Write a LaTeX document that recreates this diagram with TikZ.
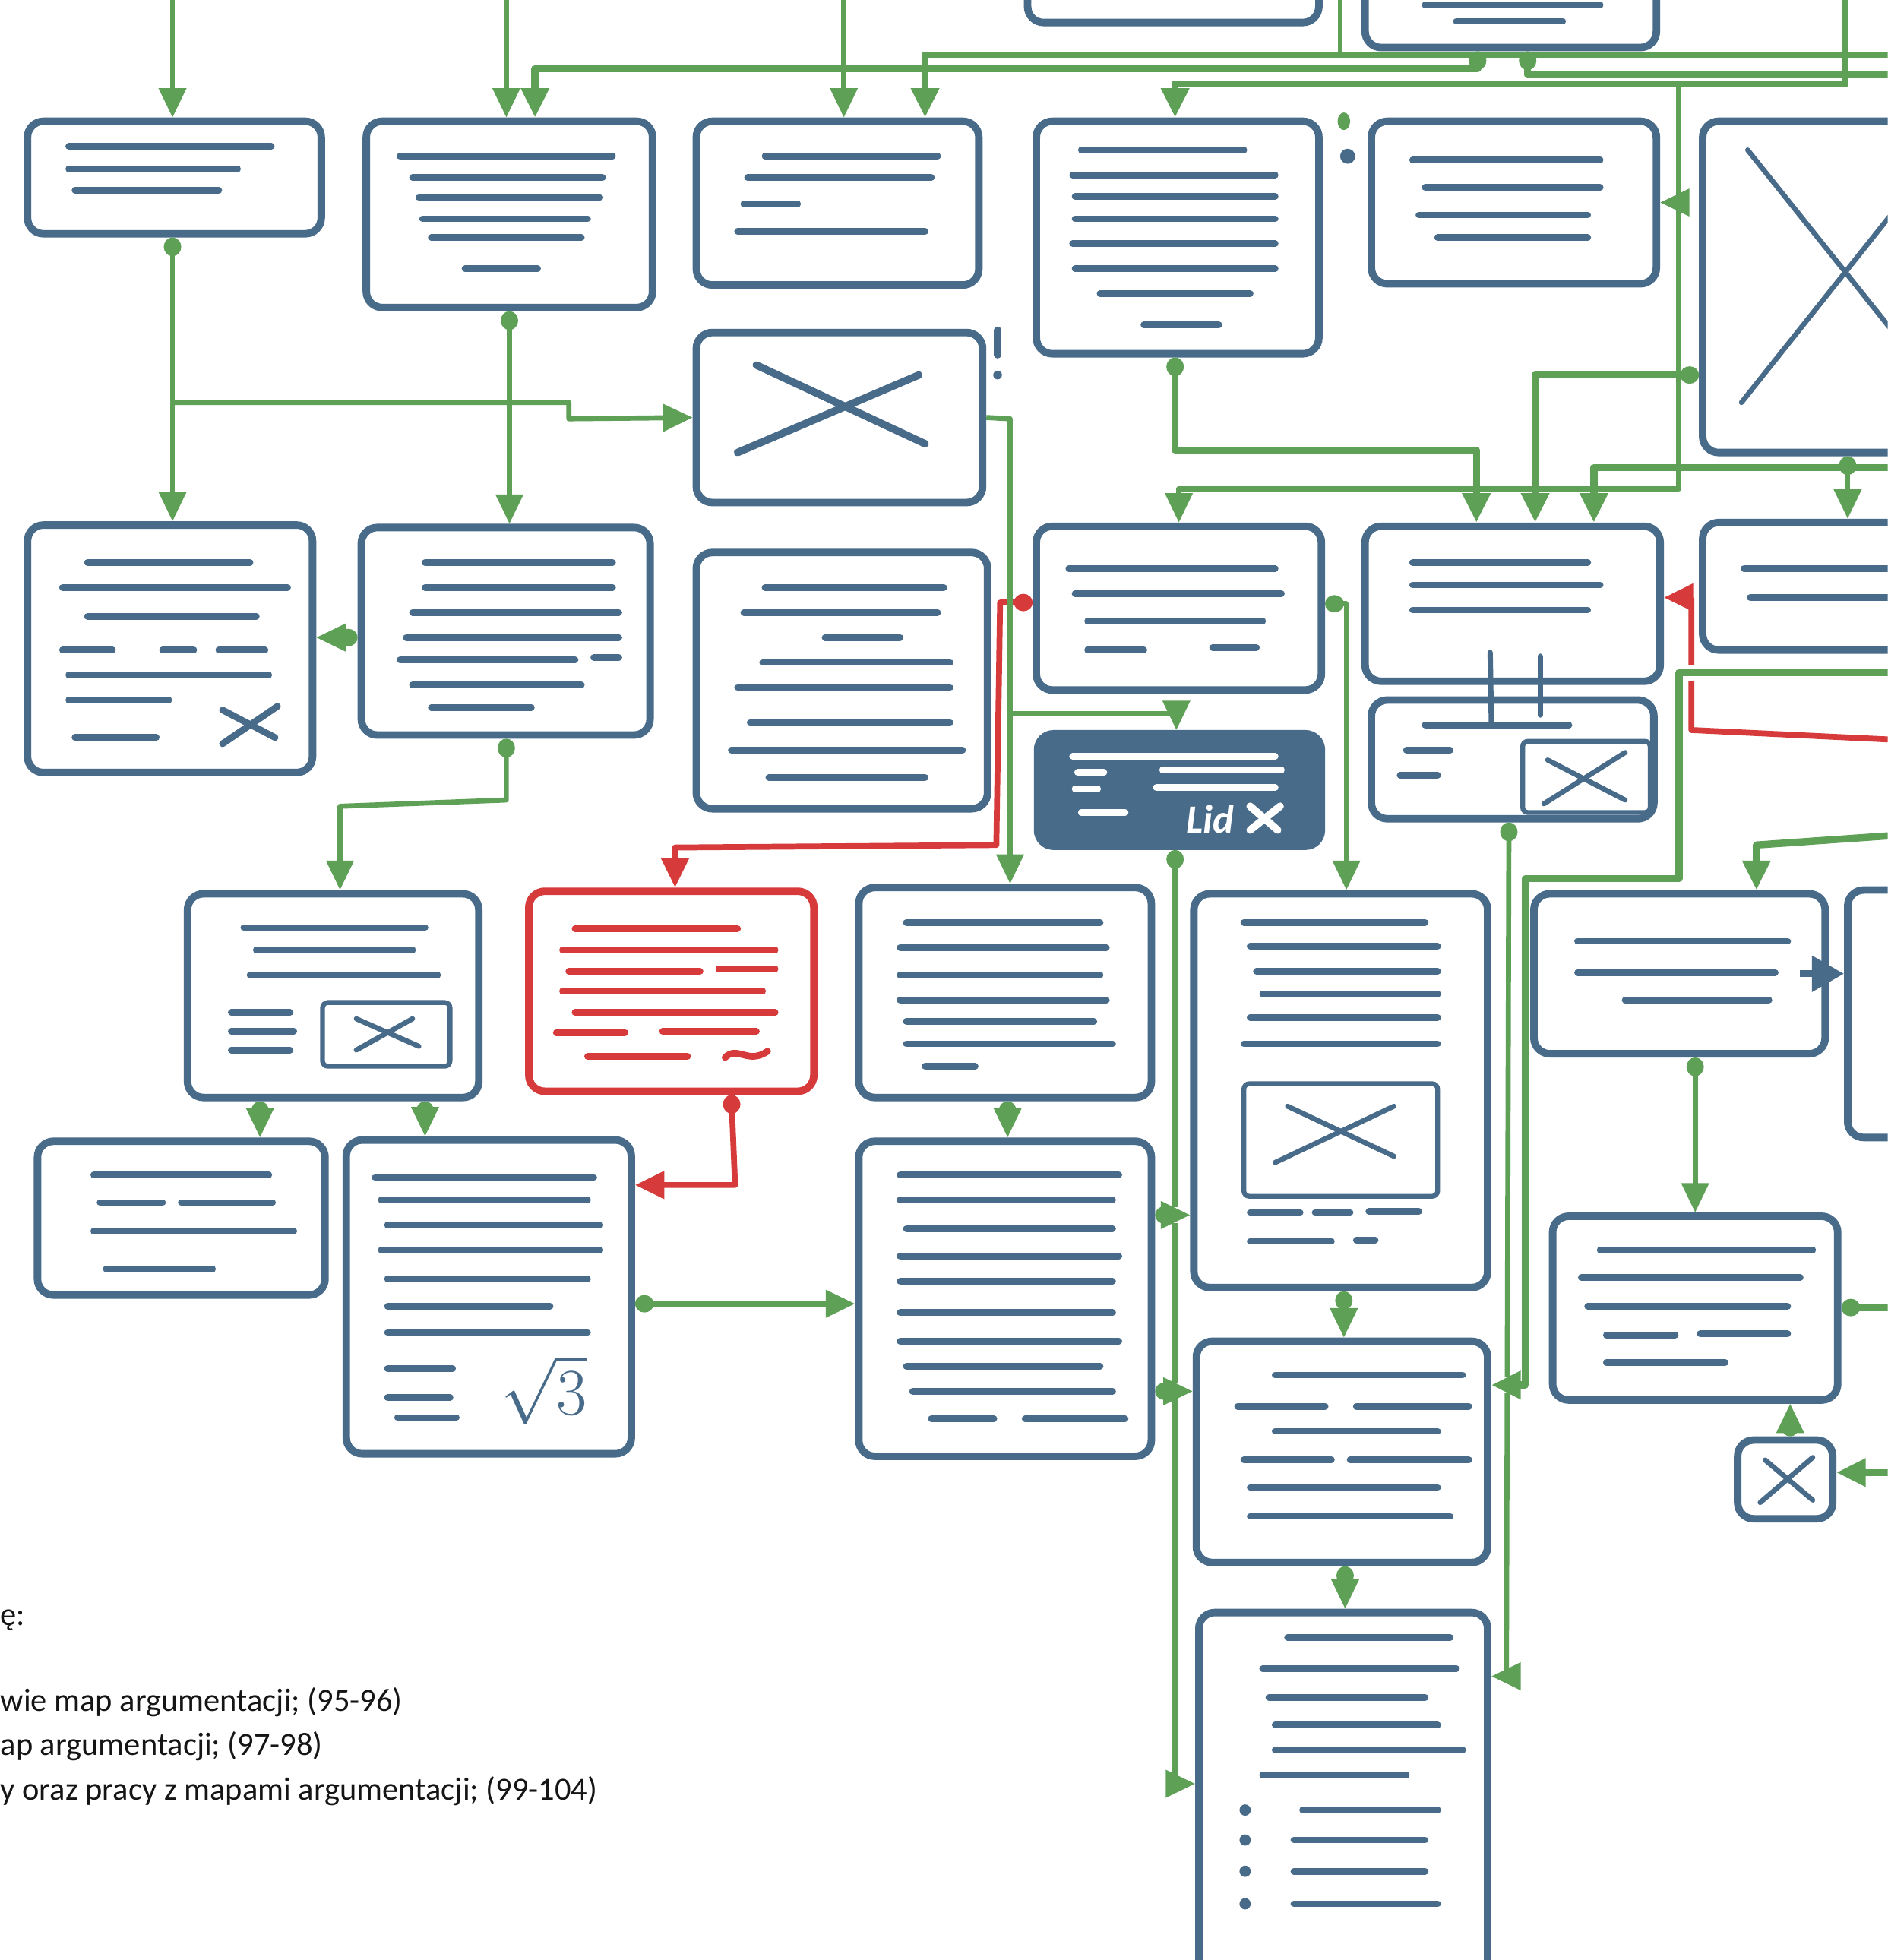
\documentclass[tikz,border=0pt]{standalone}
\usepackage{fontspec}
\setmainfont{Carlito}
\usetikzlibrary{arrows.meta,fit,calc}
\definecolor{bluec}{HTML}{486B8A}
\definecolor{greenc}{HTML}{5FA057}
\definecolor{redc}{HTML}{D63A3A}
\definecolor{inkc}{HTML}{151515}
\tikzset{
  box/.style={draw=bluec, line width=2.8pt, rounded corners=6pt, inner sep=0pt},
  redbox/.style={draw=redc, line width=2.8pt, rounded corners=6pt, inner sep=0pt},
  darkbox/.style={draw=bluec, fill=bluec, line width=2.8pt, rounded corners=6pt, inner sep=0pt},
  imgbox/.style={draw=bluec, line width=1.8pt, rounded corners=2pt},
  tl/.style={draw=bluec, line width=2.5pt, line cap=round},
  wtl/.style={draw=white, line width=2.5pt, line cap=round},
  rtl/.style={draw=redc, line width=2.5pt, line cap=round},
  xmark/.style={draw=bluec, line width=1.9pt, line cap=round},
  gline/.style={draw=greenc, line width=1.9pt, line join=round},
  gthick/.style={gline, line width=2.7pt},
  rline/.style={draw=redc, line width=2.2pt, line join=round},
  gap/.style={draw=white, line width=6pt},
  arr/.style={-{Triangle[length=11pt,width=10pt]}},
  darr/.style={{Circle[length=7pt,width=6.5pt]}-{Triangle[length=11pt,width=10pt]}},
  dl/.style={{Circle[length=7pt,width=6.5pt]}-},
  legend/.style={font=\fontsize{12.1}{14}\selectfont, text=inkc, inner sep=0pt},
}
\newcommand\mkbox[6][box]{\node[#1, fit={(#3,#4) (#5,#6)}] (#2) {};}
\newcommand\tln[3]{\draw[tl] (#1,#3) -- (#2,#3);}
\newcommand\wln[3]{\draw[wtl] (#1,#3) -- (#2,#3);}
\newcommand\rln[3]{\draw[rtl] (#1,#3) -- (#2,#3);}
\begin{document}
\begin{tikzpicture}[x=0.016457cm, y=-0.016457cm]
\useasboundingbox (0,0) rectangle (1510,1568);
\clip (0,0) rectangle (1510,1568);
\fill[white] (0,0) rectangle (1510,1568);

% ---------- boxes ----------
\mkbox{T1}{822}{-40}{1055}{18}
\mkbox{T2}{1092}{-40}{1325}{38}
\mkbox{A1}{22}{97}{257}{187}
\mkbox{A2}{293}{97}{522}{246}
\mkbox{A3}{557}{97}{783}{228}
\mkbox{A4}{829}{97}{1055}{283}
\mkbox{A5}{1097}{97}{1325}{227}
\mkbox{A6}{1362}{97}{1560}{362}
\mkbox{B3}{557}{266}{786}{402}
\mkbox{C1}{22}{420}{250}{618}
\mkbox{C2}{289}{422}{520}{588}
\mkbox{C3}{557}{442}{790}{647}
\mkbox{C4}{829}{421}{1057}{552}
\mkbox{C5}{1092}{421}{1328}{545}
\mkbox{C6}{1362}{418}{1560}{520}
\mkbox{CB}{1097}{560}{1323}{655}
\mkbox[darkbox]{D}{830}{587}{1057}{677}
\mkbox{E1}{150}{715}{383}{878}
\mkbox[redbox]{E2}{423}{713}{651}{873}
\mkbox{E3}{687}{710}{921}{878}
\mkbox{E4}{955}{715}{1190}{1030}
\mkbox{E5}{1227}{715}{1460}{843}
\mkbox{E6}{1478}{712}{1560}{910}
\mkbox{F1}{30}{913}{260}{1036}
\mkbox{F2}{277}{912}{505}{1163}
\mkbox{F3}{687}{913}{921}{1165}
\mkbox{F4}{957}{1073}{1190}{1250}
\mkbox{F5}{1242}{973}{1470}{1120}
\mkbox{F6}{1390}{1152}{1466}{1215}
\mkbox{G}{959}{1290}{1190}{1620}

% ---------- box contents ----------
% T2
\tln{1140}{1280}{4} \tln{1165}{1250}{17}
% A1
\tln{55}{217}{117} \tln{55}{190}{135} \tln{60}{175}{152}
% A2
\tln{320}{490}{125} \tln{330}{482}{142} \tln{335}{480}{158}
\tln{338}{470}{175} \tln{345}{465}{190} \tln{372}{430}{215}
% A3
\tln{612}{750}{125} \tln{598}{745}{142} \tln{595}{638}{163} \tln{590}{740}{185}
% A4
\tln{865}{995}{120} \tln{858}{1020}{140} \tln{860}{1020}{157} \tln{860}{1020}{175}
\tln{858}{1020}{195} \tln{860}{1020}{215} \tln{880}{1000}{235} \tln{915}{975}{260}
% A5
\tln{1130}{1280}{128} \tln{1140}{1280}{150} \tln{1135}{1270}{172} \tln{1150}{1270}{190}
% A6 picture placeholder
\draw[xmark] (1398,120) -- (1530,285);
\draw[xmark] (1393,322) -- (1530,150);
% B3 picture placeholder
\draw[xmark, line width=2.8pt] (605,292) -- (740,355);
\draw[xmark, line width=2.8pt] (590,362) -- (735,300);
% C1
\tln{70}{200}{450} \tln{50}{230}{470} \tln{70}{205}{493}
\tln{50}{90}{520} \tln{130}{155}{520} \tln{175}{212}{520}
\tln{55}{215}{540} \tln{55}{135}{560} \tln{60}{125}{590}
\draw[xmark, line width=2.5pt] (178,595) -- (222,565);
\draw[xmark, line width=2.5pt] (178,568) -- (220,590);
% C2
\tln{340}{490}{450} \tln{340}{490}{470} \tln{330}{495}{490} \tln{325}{495}{510}
\tln{320}{460}{528} \tln{475}{495}{526} \tln{330}{465}{548} \tln{345}{425}{566}
% C3
\tln{612}{755}{470} \tln{595}{750}{490} \tln{660}{720}{510} \tln{610}{760}{530}
\tln{590}{760}{550} \tln{600}{760}{578} \tln{585}{770}{600} \tln{615}{740}{622}
% C4
\tln{855}{1020}{455} \tln{860}{1025}{475} \tln{870}{1010}{497}
\tln{870}{915}{520} \tln{970}{1005}{518}
% C5
\tln{1130}{1270}{450} \tln{1130}{1280}{468} \tln{1130}{1270}{488}
% C6
\tln{1395}{1540}{455} \tln{1400}{1540}{478}
% CB with picture
\tln{1140}{1255}{580} \tln{1125}{1160}{600} \tln{1120}{1150}{620}
\draw[imgbox] (1218,593) rectangle (1320,650);
\draw[xmark] (1238,608) -- (1300,640);
\draw[xmark] (1235,643) -- (1300,602);
% D (dark)
\wln{858}{1020}{605} \wln{862}{883}{618} \wln{930}{1025}{616}
\wln{860}{878}{631} \wln{925}{1020}{630} \wln{865}{900}{650}
\node[text=white, font=\bfseries\itshape\fontsize{15}{15}\selectfont, inner sep=0pt] (lid) at (968,655) {Lid};
\draw[wtl, line width=2.8pt] (1000,645) -- (1022,664);
\draw[wtl, line width=2.8pt] (1000,664) -- (1024,645);
% E1 with picture
\tln{195}{340}{742} \tln{205}{330}{760} \tln{200}{350}{780}
\tln{185}{232}{810} \tln{185}{235}{825} \tln{185}{232}{840}
\draw[imgbox] (258,802) rectangle (360,853);
\draw[xmark] (285,815) -- (335,837);
\draw[xmark] (285,840) -- (330,815);
% E2 (red)
\rln{460}{590}{743} \rln{450}{620}{760} \rln{455}{560}{777} \rln{575}{620}{775}
\rln{450}{610}{793} \rln{460}{620}{810} \rln{445}{500}{826} \rln{530}{605}{825}
\rln{470}{550}{845}
\draw[rtl] (580,846) .. controls (590,836) and (598,852) .. (614,841);
% E3
\tln{725}{880}{738} \tln{720}{885}{758} \tln{720}{880}{780} \tln{720}{885}{800}
\tln{725}{875}{817} \tln{725}{890}{835} \tln{740}{780}{853}
% E4 with picture
\tln{995}{1140}{738} \tln{1000}{1150}{757} \tln{1005}{1150}{777}
\tln{1010}{1150}{795} \tln{1000}{1150}{814} \tln{995}{1150}{835}
\draw[imgbox] (995,867) rectangle (1150,957);
\draw[xmark] (1020,930) -- (1115,885);
\draw[xmark] (1030,885) -- (1115,925);
\tln{1000}{1040}{970} \tln{1052}{1080}{970} \tln{1095}{1135}{969}
\tln{1000}{1065}{993} \tln{1085}{1100}{992}
% E5
\tln{1262}{1430}{753} \tln{1262}{1420}{778} \tln{1300}{1415}{800}
% F1
\tln{75}{215}{940} \tln{80}{130}{962} \tln{145}{218}{962}
\tln{75}{235}{985} \tln{85}{170}{1015}
% F2
\tln{300}{475}{942} \tln{305}{470}{960} \tln{310}{480}{980} \tln{305}{480}{1000}
\tln{310}{470}{1023} \tln{310}{440}{1045} \tln{310}{470}{1066}
\tln{310}{362}{1095} \tln{310}{360}{1118} \tln{318}{365}{1134}
\node[text=bluec, inner sep=0pt, font=\fontsize{26}{26}\selectfont] (root) at (435,1112) {$\sqrt{3}$};
% F3
\tln{720}{895}{940} \tln{720}{890}{960} \tln{725}{890}{983} \tln{720}{895}{1005}
\tln{720}{890}{1025} \tln{720}{890}{1050} \tln{720}{895}{1073} \tln{725}{880}{1093}
\tln{730}{890}{1113} \tln{745}{795}{1135} \tln{820}{900}{1135}
% F4
\tln{1020}{1170}{1100} \tln{990}{1060}{1125} \tln{1085}{1175}{1125}
\tln{1020}{1150}{1145} \tln{995}{1065}{1168} \tln{1080}{1175}{1168}
\tln{1000}{1150}{1190} \tln{1000}{1160}{1213}
% F5
\tln{1280}{1450}{1000} \tln{1265}{1440}{1022} \tln{1270}{1430}{1045}
\tln{1285}{1340}{1068} \tln{1360}{1430}{1067} \tln{1285}{1380}{1090}
% F6 picture placeholder
\draw[xmark] (1408,1202) -- (1450,1166);
\draw[xmark] (1412,1168) -- (1450,1200);
% G
\tln{1030}{1160}{1310} \tln{1010}{1165}{1335} \tln{1015}{1140}{1358}
\tln{1020}{1150}{1380} \tln{1020}{1170}{1400} \tln{1010}{1125}{1420}
\tln{1042}{1150}{1448} \tln{1035}{1140}{1472} \tln{1035}{1140}{1497} \tln{1035}{1150}{1523}
\foreach \yy in {1448,1472,1497,1523} \fill[bluec] (996,\yy) circle (4.5);

% ---------- small marks ----------
\draw[draw=bluec, line width=2.6pt, line cap=round] (798,264) -- (798,284);
\fill[bluec] (798,300) circle (3.5);
\fill[greenc] (1075,97) ellipse (5 and 7);
\fill[bluec] (1078,125) circle (6);
\draw[draw=bluec, line width=2pt, line cap=round] (1192,522) -- (1193,578);
\draw[draw=bluec, line width=2pt, line cap=round] (1232,525) -- (1232,572);

% ---------- off-page ends ----------
\coordinate (t1) at (138,-5);
\coordinate (t2) at (405,-5);
\coordinate (t3) at (675,-5);
\coordinate (t4) at (1072,-5);
\coordinate (t5) at (1476,-5);
\coordinate (e1) at (1520,44);
\coordinate (e2) at (1520,60);
\coordinate (e3) at (1520,374);
\coordinate (e4) at (1520,538);
\coordinate (e5) at (1520,668);
\coordinate (e6) at (1520,1046);
\coordinate (e7) at (1520,1178);
\coordinate (e8) at (1520,592);

% ---------- red connectors ----------
\draw[rline, darr] (C4.west |- 0,482) -- (800,482) -- (797,676) -- (540,678) -- (540,0 |- E2.north);
\draw[rline, arr] (e8) -- (1353,584) -- (1353,478) -- (C5.east |- 0,478);
\draw[rline, darr] (585,0 |- E2.south) -- (588,948) -- (F2.east |- 0,948);

% ---------- green connectors ----------
% from above the page
\draw[gline, arr] (t1) -- (138,0 |- A1.north);
\draw[gline, arr] (t2) -- (405,0 |- A2.north);
\draw[gline, arr] (t3) -- (675,0 |- A3.north);
\draw[gthick, arr] (e1) -- (740,44) -- (740,0 |- A3.north);
\draw[gline] (t4) -- (1072,44);
\draw[gthick, darr] (1182,0 |- T2.south) -- (1182,55) -- (428,55) -- (428,0 |- A2.north);
\draw[gthick, dl] (1222,0 |- T2.south) -- (1222,60) -- (e2);
\draw[gthick, arr] (t5) -- (1476,67) -- (940,67) -- (940,0 |- A4.north);
\draw[gline, arr] (1343,67) -- (1343,391) -- (943,391) -- (943,0 |- C4.north);
\draw[gline, arr] (1343,162) -- (A5.east);
\draw[gthick, darr] (A6.west |- 0,300) -- (1228,300) -- (1228,0 |- C5.north);
\draw[gthick, darr] (940,0 |- A4.south) -- (940,360) -- (1181,360) -- (1181,0 |- C5.north);
\draw[gthick, arr] (e3) -- (1275,374) -- (1275,0 |- C5.north);
\draw[gline, darr] (1478,0 |- A6.south) -- (1478,0 |- C6.north);
% left column
\draw[gline, darr] (138,0 |- A1.south) -- (138,0 |- C1.north);
\draw[gline, arr] (138,322) -- (455,322) -- (455,335) -- (B3.west);
\draw[gline, darr] (A2.south) -- (A2.south |- C2.north);
\draw[gline, darr] (C2.west |- 0,510) -- (C1.east |- 0,510);
\draw[gline, darr] (405,0 |- C2.south) -- (405,640) -- (272,645) -- (272,0 |- E1.north);
\draw[gline, darr] (208,0 |- E1.south) -- (208,0 |- F1.north);
\draw[gline, darr] (340,0 |- E1.south) -- (340,0 |- F2.north);
\draw[gline, darr] (F2.east |- 0,1043) -- (F3.west |- 0,1043);
% middle column
\draw[gline, arr] (B3.east) -- (808,335) -- (808,571) -- (941,571) -- (941,0 |- D.north);
\draw[gline, arr] (808,571) -- (808,0 |- E3.north);
\draw[gline, darr] (806,0 |- E3.south) -- (806,0 |- F3.north);
\draw[gline, darr] (C4.east |- 0,483) -- (1077,483) -- (1077,0 |- E4.north);
\draw[gline, darr] (940,0 |- D.south) -- (940,1427) -- (G.west |- 0,1427);
% line hops where the links cross the long feed
\draw[gap] (932,972) -- (948,972);
\draw[gap] (932,1113) -- (948,1113);
\draw[gline, darr] (F3.east |- 0,972) -- (E4.west |- 0,972);
\draw[gline, darr] (F3.east |- 0,1113) -- (F4.west |- 0,1113);
\draw[gline, darr] (1075,0 |- E4.south) -- (1075,0 |- F4.north);
\draw[gline, darr] (1076,0 |- F4.south) -- (1076,0 |- G.north);
% right column
\draw[gline, darr] (1207,0 |- CB.south) -- (1205,1341) -- (G.east |- 0,1341);
\draw[gap] (1345,538) -- (1361,538);
\draw[gap] (1198,1108) -- (1213,1108);
\draw[gthick, arr] (e4) -- (1343,538) -- (1343,703) -- (1220,703) -- (1220,1108) -- (F4.east |- 0,1108);
\draw[gthick, arr] (e5) -- (1405,676) -- (1405,0 |- E5.north);
\draw[gline, darr] (1356,0 |- E5.south) -- (1356,0 |- F5.north);
\draw[gthick, dl] (F5.east |- 0,1046) -- (e6);
\draw[gthick, arr] (e7) -- (F6.east |- 0,1178);
\draw[gline, darr] (1432,0 |- F6.north) -- (1432,0 |- F5.south);
% blue link to the next sheet
\draw[draw=bluec, line width=2.5pt, -{Triangle[length=12pt,width=13pt]}] (1440,779) -- (E6.west |- 0,779);

% ---------- legend ----------
\node[legend, anchor=base west] (lg0) at (0,1300) {ę:};
\node[legend, anchor=base west] (lg1) at (0,1369) {wie map argumentacji; (95-96)};
\node[legend, anchor=base west] (lg2) at (0,1404) {ap argumentacji; (97-98)};
\node[legend, anchor=base west] (lg3) at (0,1440) {y oraz pracy z mapami argumentacji; (99-104)};
\end{tikzpicture}
\end{document}
